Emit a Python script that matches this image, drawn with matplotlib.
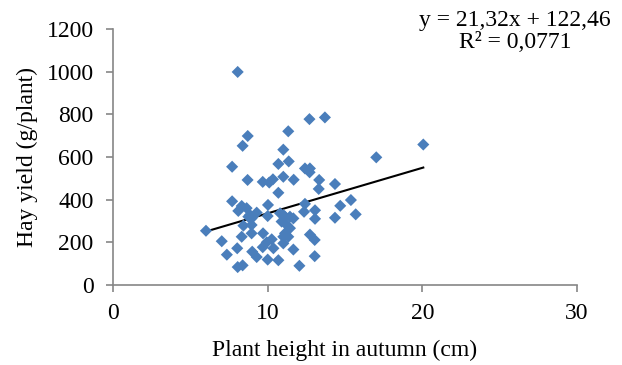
import matplotlib
matplotlib.use('Agg')
import matplotlib.pyplot as plt
import numpy as np

# Plant height in autumn (cm) vs hay yield (g/plant)
height = [8.06, 12.7, 13.7, 11.33, 8.71, 8.38, 20.06, 17.02, 11.01, 7.7,
          10.69, 11.36, 12.41, 12.73, 12.71, 8.7, 9.68, 10.1, 10.34, 11.01,
          11.68, 13.33, 13.3, 14.35, 10.69, 7.7, 8.32, 8.64, 8.1, 10.02,
          12.41, 15.38, 14.69, 15.69, 14.35, 13.06, 12.35, 13.06, 9.29, 8.86,
          8.96, 10.0, 11.01, 11.44, 11.66, 10.9, 11.23, 11.44, 11.12, 11.01,
          11.33, 8.43, 8.96, 8.96, 9.7, 6.01, 7.03, 8.32, 8.03, 7.36,
          9.0, 9.29, 9.68, 9.94, 10.26, 10.37, 10.0, 10.69, 11.01, 11.66,
          8.06, 8.38, 12.05, 12.73, 13.04, 13.04, 10.8, 11.12, 8.75]
hay_yield = [998, 777, 785, 720, 698, 652, 658, 598, 634, 554,
             567, 579, 546, 546, 528, 492, 483, 480, 495, 507,
             493, 492, 450, 473, 432, 392, 370, 360, 347, 375,
             380, 398, 371, 331, 315, 350, 343, 310, 339, 328,
             312, 323, 328, 320, 312, 297, 281, 266, 242, 226,
             226, 278, 281, 242, 242, 254, 205, 226, 172, 142,
             156, 131, 177, 200, 214, 172, 119, 116, 195, 166,
             84, 92, 90, 236, 211, 135, 336, 320, 320]

# linear trend as given on the chart
slope = 21.32
intercept = 122.46

plt.rcParams['font.family'] = ['Liberation Serif', 'DejaVu Serif']

fig = plt.figure(figsize=(6.22, 3.65), dpi=100)
ax = fig.add_axes([0.1817, 0.2192, 0.746, 0.7018])

ax.scatter(height, hay_yield, marker='D', s=38, color='#4A7EBB',
           edgecolors='none', zorder=3)

xs = np.array([min(height), max(height)])
ax.plot(xs, slope * xs + intercept, color='black', lw=1.5, zorder=2)

ax.set_xlim(0, 30)
ax.set_ylim(0, 1200)
ax.set_xticks([0, 10, 20, 30])
ax.set_yticks(range(0, 1201, 200))

for s in ['top', 'right']:
    ax.spines[s].set_visible(False)
for s in ['left', 'bottom']:
    ax.spines[s].set_color('#868686')
    ax.spines[s].set_linewidth(1.2)
ax.tick_params(colors='#868686', labelcolor='black', labelsize=17,
               direction='out', length=5, width=1.2)
ax.tick_params(axis='y', pad=9)
ax.tick_params(axis='x', pad=8)

ax.set_xlabel('Plant height in autumn (cm)', fontsize=17, labelpad=11)
ax.set_ylabel('Hay yield (g/plant)', fontsize=17, labelpad=6)

fig.text(0.828, 0.914, 'y = 21,32x + 122,46\nR² = 0,0771', ha='center',
         va='center', fontsize=17, linespacing=1.1)

fig.savefig('out.png', dpi=100)
